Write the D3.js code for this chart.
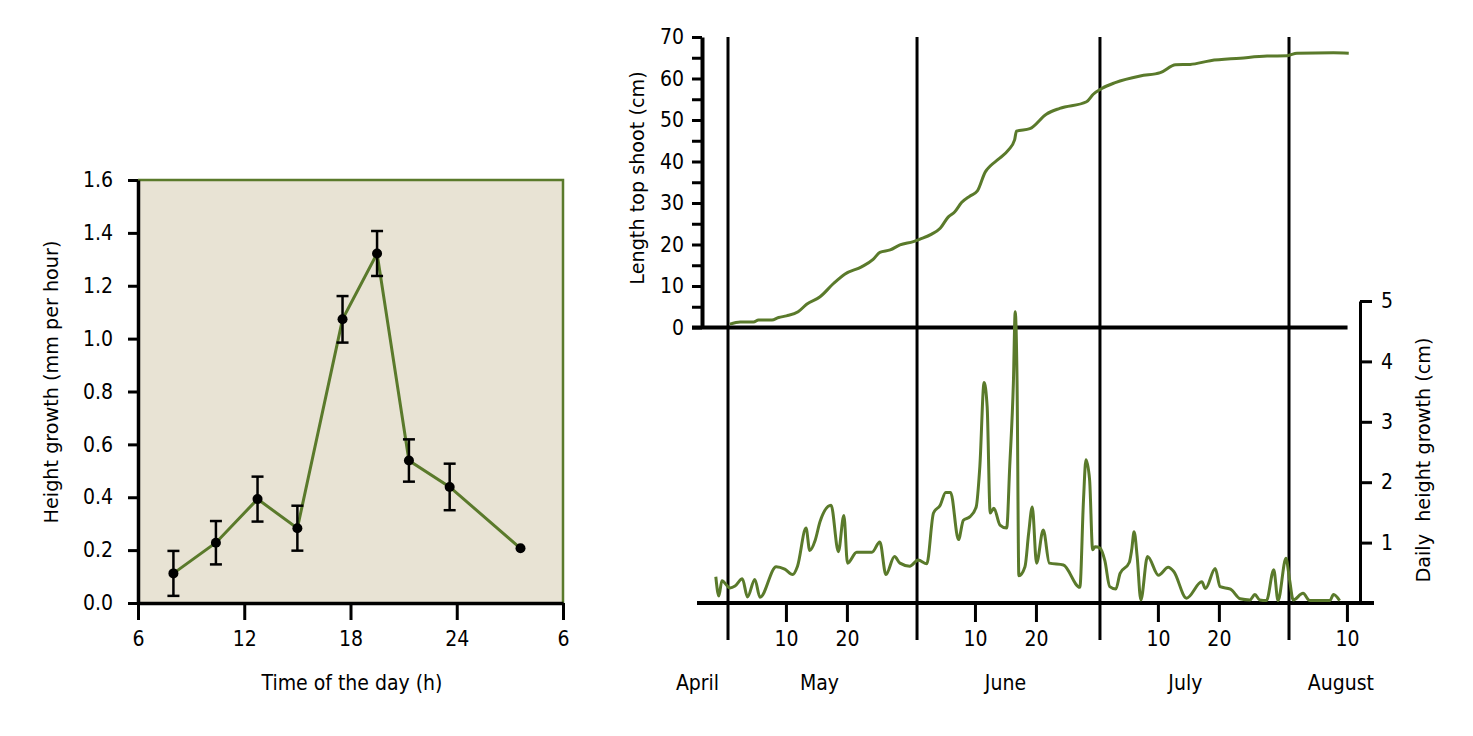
<!DOCTYPE html>
<html>
<head>
<meta charset="utf-8">
<script src="https://cdn.jsdelivr.net/npm/d3@7"></script>
<style>
  body { margin: 0; background: #fff; }
</style>
</head>
<body>
<div id="chart"></div>
<script>
// ---- left panel : hourly growth ----
var hours      = [8.0, 10.4, 12.75, 15.0, 17.55, 19.5, 21.3, 23.6, 27.6];
var growthRate = [0.112, 0.228, 0.393, 0.283, 1.073, 1.322, 0.539, 0.439, 0.207];
var growthErr  = [0.085, 0.082, 0.085, 0.085, 0.088, 0.085, 0.080, 0.088, 0];
var hourTicks  = [6, 12, 18, 24, 30];
var rateTicks  = [0, 0.2, 0.4, 0.6, 0.8, 1.0, 1.2, 1.4, 1.6];

// ---- right panel : season (days counted from 1 May) ----
var lengthDays = [0.3, 2.0, 4.2, 5.0, 7.2, 8.3, 9.6, 11.5, 12.9, 15.1, 17.3, 19.2, 21.9, 23.8, 24.9,
  26.6, 28.2, 30.4, 31.5, 33.4, 34.8, 36.1, 37.2, 38.3, 39.7, 40.9, 42.2, 43.0, 44.3, 46.0, 47.0,
  47.3, 49.5, 52.2, 54.4, 58.8, 59.9, 61.3, 63.5, 67.6, 70.9, 73.4, 75.8, 79.1, 84.0, 88.4, 91.7,
  93.3, 99.3, 101.8];
var lengthCm = [0.8, 1.3, 1.3, 1.8, 1.8, 2.4, 2.8, 3.8, 5.6, 7.4, 10.6, 12.9, 14.6, 16.4, 18.1,
  18.7, 19.9, 20.7, 21.3, 22.5, 23.9, 26.6, 27.9, 30.1, 31.7, 32.9, 37.5, 38.9, 40.5, 42.8, 45.2,
  47.3, 47.9, 51.4, 52.8, 54.4, 56.2, 57.6, 59.0, 60.6, 61.4, 63.3, 63.4, 64.3, 64.9, 65.4, 65.5,
  66.1, 66.2, 66.1];

var dailyDays = [-2.0, -1.5, -1.0, 0.33, 1.15, 2.35, 3.2, 4.4, 5.25, 7.9, 9.3, 10.6, 11.4, 12.8,
  13.4, 14.3, 15.1, 16.9, 18.1, 19.0, 19.6, 21.1, 23.6, 24.9, 25.9, 27.3, 28.2, 29.8, 31.2, 32.6,
  33.7, 34.8, 35.7, 36.5, 37.8, 38.6, 39.7, 40.7, 41.3, 42.0, 42.5, 43.0, 43.6, 44.6, 45.7, 46.2,
  46.8, 47.1, 47.4, 47.7, 48.7, 49.3, 49.9, 50.6, 51.7, 52.7, 55.0, 57.7, 58.3, 58.7, 59.3, 59.8,
  60.2, 61.0, 61.8, 62.6, 63.6, 64.3, 65.8, 66.2, 66.6, 67.1, 67.7, 68.8, 70.6, 72.2, 73.1, 75.2,
  77.7, 78.3, 79.9, 80.7, 82.4, 84.0, 85.6, 86.4, 87.2, 88.3, 89.5, 90.2, 91.5, 92.1, 92.7, 94.3,
  95.4, 98.7, 99.3, 100.3];
var dailyCm = [0.435, 0.116, 0.37, 0.25, 0.28, 0.40, 0.10, 0.39, 0.094, 0.60, 0.56, 0.47, 0.61, 1.24,
  0.87, 1.04, 1.35, 1.62, 0.85, 1.45, 0.66, 0.84, 0.84, 1.01, 0.47, 0.77, 0.66, 0.61, 0.71, 0.65,
  1.49, 1.62, 1.83, 1.83, 1.05, 1.37, 1.43, 1.59, 2.26, 3.65, 3.25, 1.49, 1.57, 1.29, 1.24, 2.26,
  3.64, 4.82, 3.69, 0.45, 0.60, 1.15, 1.59, 0.66, 1.21, 0.66, 0.63, 0.26, 1.71, 2.37, 2.04, 0.88,
  0.93, 0.91, 0.70, 0.27, 0.23, 0.49, 0.67, 0.88, 1.18, 0.77, 0.05, 0.77, 0.46, 0.59, 0.52, 0.08,
  0.35, 0.24, 0.57, 0.27, 0.23, 0.07, 0.05, 0.14, 0.05, 0.04, 0.55, 0.04, 0.74, 0.38, 0.05, 0.16,
  0.04, 0.04, 0.14, 0.04];

var monthStarts = ["2000-05-01", "2000-06-01", "2000-07-01", "2000-08-01"];
var dayTicks    = ["2000-05-10T12:00Z", "2000-05-20T12:00Z", "2000-06-10T12:00Z", "2000-06-20T12:00Z",
                   "2000-07-10T12:00Z", "2000-07-20T12:00Z", "2000-08-10T12:00Z"];
var monthNames  = ["April", "May", "June", "July", "August"];
var monthLabelAt = ["2000-04-26", "2000-05-16", "2000-06-15T12:00Z", "2000-07-15", "2000-08-09T12:00Z"];
var lengthTicks = [0, 5, 10, 15, 20, 25, 30, 35, 40, 45, 50, 55, 60, 65, 70];
var dailyTicks  = [1, 2, 3, 4, 5];

var green = "#5a7a2b";
var W = 1473, H = 736;
var condFont = "'DejaVu Sans Condensed', 'Liberation Sans Narrow', 'Roboto Condensed', 'DejaVu Sans', sans-serif";
var titleFont = "'DejaVu Sans', Verdana, sans-serif";

var svg = d3.select("#chart").append("svg")
  .attr("width", W).attr("height", H);

function condText(sel){
  return sel.attr("fill", "#000")
    .style("font-family", condFont).style("font-stretch", "condensed").style("font-size", "21px");
}
function titleText(sel){
  return sel.attr("fill", "#000")
    .style("font-family", titleFont).style("font-size", "19.2px");
}
function styleAxis(g, domainW){
  g.attr("font-size", null).attr("font-family", null);
  g.selectAll("path").attr("stroke", "#000").attr("stroke-width", domainW);
  g.selectAll("line").attr("stroke", "#000").attr("stroke-width", 3);
  condText(g.selectAll("text"));
}

// ================= left panel =================
var xh = d3.scaleLinear().domain([6, 30]).range([138, 563]);
var yr = d3.scaleLinear().domain([0, 1.6]).range([603, 180]);

svg.append("rect")
  .attr("x", xh(6)).attr("y", yr(1.6))
  .attr("width", xh(30) - xh(6)).attr("height", yr(0) - yr(1.6))
  .attr("fill", "#e8e3d4");

// green frame on top and right
svg.append("path")
  .attr("d", "M" + xh(6) + "," + yr(1.6) + "H" + xh(30) + "V" + yr(0))
  .attr("fill", "none").attr("stroke", green).attr("stroke-width", 2.5);

var gyl = svg.append("g")
  .attr("transform", "translate(" + xh(6) + ",0)")
  .call(d3.axisLeft(yr).tickValues(rateTicks).tickFormat(d3.format(".1f"))
    .tickSize(10).tickSizeOuter(0).tickPadding(15));
var gxl = svg.append("g")
  .attr("transform", "translate(0," + yr(0) + ")")
  .call(d3.axisBottom(xh).tickValues(hourTicks).tickFormat(function(d){ return d > 24 ? d - 24 : d; })
    .tickSize(17).tickSizeOuter(0).tickPadding(11));
styleAxis(gyl, 3.5);
styleAxis(gxl, 3.5);

titleText(svg.append("text"))
  .attr("transform", "translate(58,382) rotate(-90)")
  .attr("text-anchor", "middle")
  .text("Height growth (mm per hour)");

condText(svg.append("text"))
  .attr("x", 352).attr("y", 690)
  .attr("text-anchor", "middle")
  .text("Time of the day (h)");

var hourData = hours.map(function(h, i){ return { h: h, v: growthRate[i], e: growthErr[i] }; });

svg.append("path")
  .datum(hourData)
  .attr("fill", "none").attr("stroke", green).attr("stroke-width", 3)
  .attr("d", d3.line().x(function(d){ return xh(d.h); }).y(function(d){ return yr(d.v); }));

var bars = svg.selectAll(".err").data(hourData.filter(function(d){ return d.e > 0; }))
  .enter().append("g").attr("class", "err")
  .attr("stroke", "#000").attr("stroke-width", 2.5);
bars.append("line")
  .attr("x1", function(d){ return xh(d.h); }).attr("x2", function(d){ return xh(d.h); })
  .attr("y1", function(d){ return yr(d.v - d.e); }).attr("y2", function(d){ return yr(d.v + d.e); });
bars.append("line")
  .attr("x1", function(d){ return xh(d.h) - 6; }).attr("x2", function(d){ return xh(d.h) + 6; })
  .attr("y1", function(d){ return yr(d.v + d.e); }).attr("y2", function(d){ return yr(d.v + d.e); });
bars.append("line")
  .attr("x1", function(d){ return xh(d.h) - 6; }).attr("x2", function(d){ return xh(d.h) + 6; })
  .attr("y1", function(d){ return yr(d.v - d.e); }).attr("y2", function(d){ return yr(d.v - d.e); });

svg.selectAll(".dot").data(hourData)
  .enter().append("circle").attr("class", "dot")
  .attr("cx", function(d){ return xh(d.h); })
  .attr("cy", function(d){ return yr(d.v); })
  .attr("r", 5).attr("fill", "#000");

// ================= right panel =================
var parse = d3.isoParse;
var may1 = parse("2000-05-01");
function dayDate(d){ return new Date(may1.getTime() + d * 864e5); }

var xd = d3.scaleUtc().domain([may1, parse("2000-08-01")]).range([728, 1289]);
var yl = d3.scaleLinear().domain([0, 70]).range([327.5, 37]);
var yd = d3.scaleLinear().domain([0, 5]).range([603, 301]);

// month separators
svg.selectAll(".month").data(monthStarts)
  .enter().append("line").attr("class", "month")
  .attr("x1", function(d){ return xd(parse(d)); }).attr("x2", function(d){ return xd(parse(d)); })
  .attr("y1", 37).attr("y2", 640)
  .attr("stroke", "#000").attr("stroke-width", 3);

// length axis (left)
var gyt = svg.append("g")
  .attr("transform", "translate(702,0)")
  .call(d3.axisLeft(yl).tickValues(lengthTicks)
    .tickFormat(function(d){ return d % 10 === 0 ? d : ""; })
    .tickSize(10).tickSizeOuter(0).tickPadding(8));

// daily axis (right)
var gyd = svg.append("g")
  .attr("transform", "translate(1360,0)")
  .call(d3.axisRight(yd).tickValues(dailyTicks).tickFormat(d3.format("d"))
    .tickSize(12).tickSizeOuter(0).tickPadding(9));

// date ticks
var gxd = svg.append("g")
  .attr("transform", "translate(0,603)")
  .call(d3.axisBottom(xd).tickValues(dayTicks.map(parse)).tickFormat(d3.utcFormat("%-d"))
    .tickSize(19).tickSizeOuter(0).tickPadding(9));
gxd.select(".domain").remove();

styleAxis(gyt, 4);
styleAxis(gyd, 3);
styleAxis(gxd, 3);

// zero lines
svg.append("line")
  .attr("x1", 692).attr("x2", xd(dayDate(101.6)))
  .attr("y1", yl(0)).attr("y2", yl(0))
  .attr("stroke", "#000").attr("stroke-width", 4);
svg.append("line")
  .attr("x1", 697).attr("x2", 1374)
  .attr("y1", yd(0)).attr("y2", yd(0))
  .attr("stroke", "#000").attr("stroke-width", 4);

condText(svg.selectAll(".mname").data(monthNames)
  .enter().append("text").attr("class", "mname"))
  .attr("x", function(d, i){ return xd(parse(monthLabelAt[i])); })
  .attr("y", 690)
  .attr("text-anchor", "middle")
  .text(function(d){ return d; });

titleText(svg.append("text"))
  .attr("transform", "translate(644,178) rotate(-90)")
  .attr("text-anchor", "middle")
  .text("Length top shoot (cm)");

titleText(svg.append("text"))
  .attr("transform", "translate(1430,460) rotate(-90)")
  .attr("text-anchor", "middle")
  .style("white-space", "pre")
  .text("Daily  height growth (cm)");

// curves
svg.append("path")
  .datum(lengthDays.map(function(d, i){ return [d, lengthCm[i]]; }))
  .attr("fill", "none").attr("stroke", green).attr("stroke-width", 3)
  .attr("d", d3.line().curve(d3.curveMonotoneX)
    .x(function(d){ return xd(dayDate(d[0])); }).y(function(d){ return yl(d[1]); }));

svg.append("path")
  .datum(dailyDays.map(function(d, i){ return [d, dailyCm[i]]; }))
  .attr("fill", "none").attr("stroke", green).attr("stroke-width", 3)
  .attr("d", d3.line().curve(d3.curveMonotoneX)
    .x(function(d){ return xd(dayDate(d[0])); }).y(function(d){ return yd(d[1]); }));
</script>
</body>
</html>
